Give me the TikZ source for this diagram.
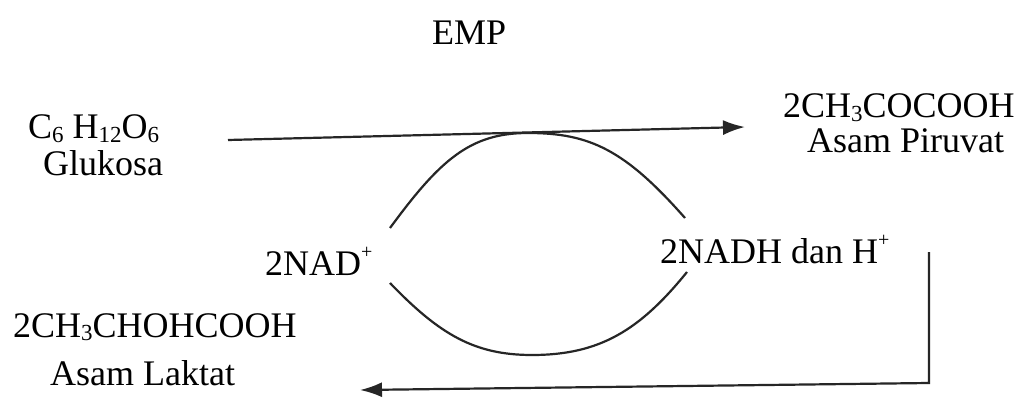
\documentclass[tikz,border=0pt]{standalone}
\usepackage{fontspec}
\setmainfont{Liberation Serif}
\usetikzlibrary{arrows.meta}
\newcommand{\lsub}[1]{\raisebox{-0.1em}{\fontsize{23}{26}\selectfont #1}}
\newcommand{\lsup}[1]{\raisebox{0.45em}{\fontsize{20}{24}\selectfont #1}}
\begin{document}
\begin{tikzpicture}[x=1pt,y=-1pt,
  lbl/.style={anchor=base west,inner sep=0pt,font=\fontsize{36}{40}\selectfont},
  conn/.style={line width=2.2pt,black!85},
  arr/.style={conn,-{Latex[length=22pt,width=15pt]}}]
\useasboundingbox[fill=white] (0,0) rectangle (1018,401);
\node[lbl] (emp) at (432,45) {EMP};
\node[lbl] (glc) at (28,139) {C\lsub{6} H\lsub{12}O\lsub{6}};
\node[lbl] (glcn) at (43,176) {Glukosa};
\node[lbl] (pyr) at (783,118) {2CH\lsub{3}COCOOH};
\node[lbl] (pyrn) at (807,153) {Asam Piruvat};
\node[lbl] (nad) at (265,275) {2NAD\lsup{+}};
\node[lbl] (nadh) at (660,263) {2NADH dan H\lsup{+}};
\node[lbl] (lac) at (13,337) {2CH\lsub{3}CHOHCOOH};
\node[lbl] (lacn) at (50,385) {Asam Laktat};
% connector ends
\coordinate (a1) at (228,140);
\coordinate (a2) at (745,127);
\coordinate (u1) at (390,228);
\coordinate (ut) at (528,133);
\coordinate (u2) at (685,218);
\coordinate (l1) at (390,283);
\coordinate (lb) at (532,355);
\coordinate (l2) at (687,272);
\coordinate (r1) at (929,252);
\coordinate (r2) at (929,383);
\coordinate (r3) at (360,390);
\draw[arr] (a1) -- (a2);
\draw[conn] (u1) .. controls (440,160) and (470,133) .. (ut) .. controls (590,133) and (625,150) .. (u2);
\draw[conn] (l1) .. controls (440,335) and (475,355) .. (lb) .. controls (600,355) and (640,330) .. (l2);
\draw[arr] (r1) -- (r2) -- (r3);
\end{tikzpicture}
\end{document}
